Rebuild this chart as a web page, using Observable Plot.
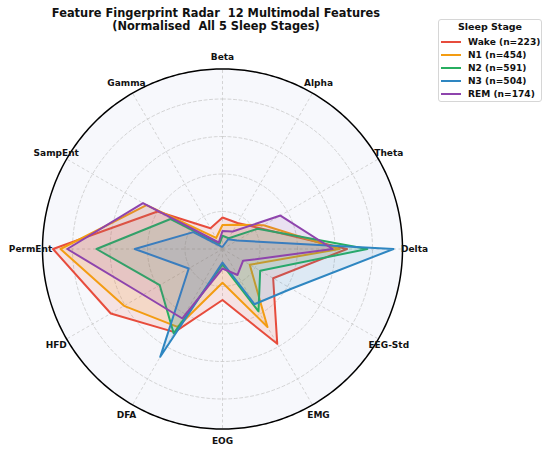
<!DOCTYPE html>
<html><head><meta charset="utf-8">
<script src="https://cdn.jsdelivr.net/npm/d3@7"></script>
<script src="https://cdn.jsdelivr.net/npm/@observablehq/plot@0.6"></script>
<style>
body{margin:0;background:#fff;font-family:"DejaVu Sans",sans-serif;}
#wrap{position:relative;width:550px;height:453px;overflow:hidden;}
#wrap svg{position:absolute;left:0;top:0;}
#title{position:absolute;left:16px;width:400px;top:7px;text-align:center;font-weight:bold;font-size:11.4px;line-height:13px;color:#111;white-space:pre;}
#legend{position:absolute;left:438px;top:19px;width:104px;height:83px;box-sizing:border-box;border:1px solid #d6d6d6;border-radius:3px;background:rgba(255,255,255,0.85);}
#legend .lt{position:absolute;left:0;width:102px;top:1px;text-align:center;font-weight:bold;font-size:9.5px;line-height:12px;color:#111;}
#legend .row{position:absolute;left:2px;height:12px;font-weight:bold;font-size:9.1px;line-height:12px;color:#111;white-space:nowrap;}
#legend .sw{position:absolute;left:0;top:5px;width:20px;height:2px;}
#legend .tx{position:absolute;left:27px;top:0;}
</style></head><body><div id="wrap"><div id="title"></div><div id="legend"></div></div>
<script>
const features = ["Beta","Alpha","Theta","Delta","EEG-Std","EMG","EOG","DFA","HFD","PermEnt","SampEnt","Gamma"];
const stages = ["Wake","N1","N2","N3","REM"];
const counts = [223,454,591,504,174];
const colors = ["#e74c3c","#f39c12","#27ae60","#2e86c1","#8e44ad"];
const wake = [0.21,0.20,0.28,0.83,0.39,0.73,0.34,0.64,0.86,1.13,0.50,0.16];
const n1   = [0.16,0.186,0.317,0.78,0.21,0.60,0.225,0.60,0.758,1.08,0.585,0.085];
const n2   = [0.088,0.083,0.27,0.965,0.29,0.48,0.105,0.65,0.483,0.84,0.40,0.04];
const n3   = [0.015,0.075,0.113,1.14,0.53,0.425,0.09,0.83,0.26,0.585,0.225,0.02];
const rem  = [0.12,0.135,0.446,0.735,0.158,0.20,0.13,0.535,0.61,1.035,0.612,0.05];
const series = [wake,n1,n2,n3,rem];
const rings = [0.25,0.5,0.75,1.0];
const rMax = 1.2;
const labelR = 1.28;
const titleLines = ["Feature Fingerprint Radar  12 Multimodal Features","(Normalised  All 5 Sleep Stages)"];
const legendTitle = "Sleep Stage";

const W = 550, H = 453, cx = 222, cy = 248.5, pxPerUnit = 150;
const ang = i => i * 2 * Math.PI / features.length;

const rows = stages.flatMap((s, si) => features.map((f, i) => ({stage: s, feature: f, a: ang(i), v: series[si][i]})));
const circle = (r, n = 360) => d3.range(n).map(k => ({r, a: k * 2 * Math.PI / n}));
const ringPts = rings.flatMap(r => circle(r));
const spokes = features.map((f, i) => ({f, a: ang(i)}));

const marks = [
  Plot.line(circle(rMax), {x: d => d.r*Math.sin(d.a), y: d => d.r*Math.cos(d.a), curve: "linear-closed", fill: "#f7f8fc", stroke: "none"}),
  Plot.line(ringPts, {x: d => d.r*Math.sin(d.a), y: d => d.r*Math.cos(d.a), z: "r", curve: "linear-closed", stroke: "#c9c9c9", strokeWidth: 0.8, strokeDasharray: "3,2.5"}),
  Plot.link(spokes, {x1: 0, y1: 0, x2: d => rMax*Math.sin(d.a), y2: d => rMax*Math.cos(d.a), stroke: "#c9c9c9", strokeWidth: 0.8, strokeDasharray: "3,2.5"})
];
stages.forEach((s, si) => {
  const d = rows.filter(r => r.stage === s);
  marks.push(Plot.line(d, {x: r => r.v*Math.sin(r.a), y: r => r.v*Math.cos(r.a), curve: "linear-closed", fill: colors[si], fillOpacity: 0.13, stroke: "none"}));
  marks.push(Plot.line(d, {x: r => r.v*Math.sin(r.a), y: r => r.v*Math.cos(r.a), curve: "linear-closed", stroke: colors[si], strokeWidth: 2, strokeLinejoin: "round"}));
});
marks.push(Plot.line(circle(rMax), {x: d => d.r*Math.sin(d.a), y: d => d.r*Math.cos(d.a), curve: "linear-closed", stroke: "#000", strokeWidth: 1.5}));
marks.push(Plot.text(spokes, {x: d => labelR*Math.sin(d.a), y: d => labelR*Math.cos(d.a), text: "f", fontWeight: "bold", fontSize: 9, fill: "#111"}));

const chart = Plot.plot({
  width: W, height: H, margin: 0,
  style: {fontFamily: "DejaVu Sans", background: "transparent", overflow: "visible"},
  x: {domain: [-cx/pxPerUnit, (W-cx)/pxPerUnit], axis: null},
  y: {domain: [-(H-cy)/pxPerUnit, cy/pxPerUnit], axis: null},
  marks
});
const wrap = document.getElementById("wrap");
wrap.insertBefore(chart, wrap.firstChild);

document.getElementById("title").textContent = titleLines.join("\n");
const lg = document.getElementById("legend");
let html = `<div class="lt">${legendTitle}</div>`;
stages.forEach((s, i) => {
  html += `<div class="row" style="top:${Math.round(15.5 + i*13.2)}px"><div class="sw" style="background:${colors[i]}"></div><div class="tx">${s} (n=${counts[i]})</div></div>`;
});
lg.innerHTML = html;
</script>
</body></html>
